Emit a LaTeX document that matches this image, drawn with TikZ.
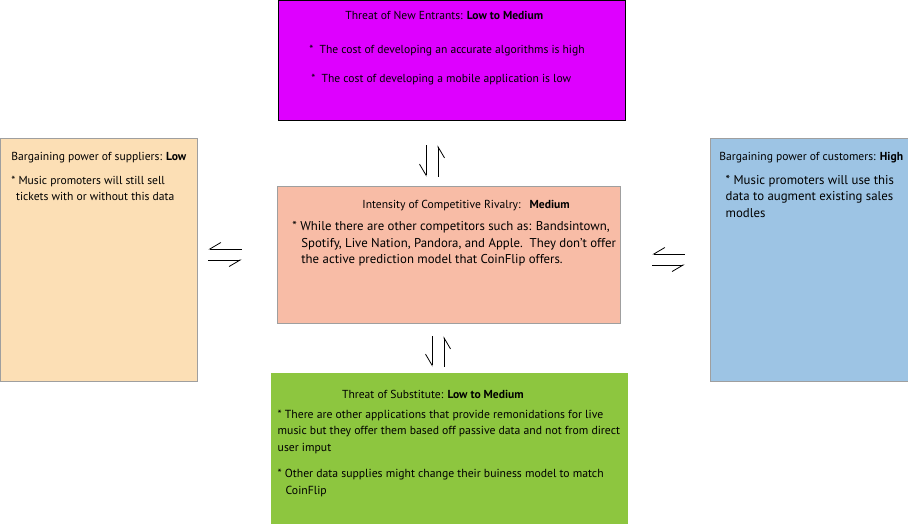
\documentclass[tikz,border=0pt]{standalone}
\usepackage{fontspec}
\setmainfont{PT Sans}
\usetikzlibrary{arrows.meta}

\definecolor{entrantsfill}{RGB}{222,0,255}
\definecolor{suppliersfill}{RGB}{252,223,181}
\definecolor{customersfill}{RGB}{157,196,228}
\definecolor{rivalryfill}{RGB}{248,188,166}
\definecolor{substitutefill}{RGB}{141,198,63}

\begin{document}
\begin{tikzpicture}[x=1pt, y=-1pt, >={Straight Barb[right,length=11pt,width=13pt]}, line width=0.8pt,
    force/.style={rectangle, draw=gray!75, line width=0.8pt, inner sep=0pt},
    txt/.style={anchor=base west, align=left, inner sep=0pt, font=\fontsize{11.6}{16.3}\selectfont},
    bigtxt/.style={txt, font=\fontsize{12.8}{16.5}\selectfont}]
    \useasboundingbox (0,0) rectangle (908,524);

    % Boxes {entrants, suppliers, rivalry, customers, substitute}
    \node [force, draw=black, fill=entrantsfill, minimum width=347pt, minimum height=120pt] (entrants)   at (451.5,60)   {};
    \node [force, fill=suppliersfill,  minimum width=197pt, minimum height=243pt]          (suppliers)  at (98.5,259.5) {};
    \node [force, fill=rivalryfill,    minimum width=343pt, minimum height=137pt]          (rivalry)    at (448.5,254.5) {};
    \node [force, fill=customersfill,  minimum width=198pt, minimum height=243pt]          (customers)  at (809,259.5)  {};
    \node [force, draw=substitutefill, fill=substitutefill, minimum width=356pt, minimum height=152pt] (substitute) at (449,449) {};

    % Texts (multi-line texts sit on their last baseline)
    \node [txt] (entrantstitle)  at (345,20)     {Threat of New Entrants: \textbf{Low to Medium}};
    \node [txt] (entrantsnotes)  at (309,82.3)   {* \ The cost of developing an accurate algorithms is high\\[12.7pt]\hspace*{2pt}* \ The cost of developing a mobile application is low};
    \node [txt] (supplierstitle) at (11,160.7)   {Bargaining power of suppliers: \textbf{Low}};
    \node [txt] (suppliersnotes) at (11,200.7)   {* Music promoters will still sell\\\hspace*{4.7pt}tickets with or without this data};
    \node [txt] (customerstitle) at (719,160.7)  {Bargaining power of customers: \textbf{High}};
    \node [bigtxt] (customersnotes) at (725.3,217.3) {* Music promoters will use this\\data to augment existing sales\\modles};
    \node [txt] (rivalrytitle)   at (362,208.3)  {Intensity of Competitive Rivalry:\hspace{9pt}\textbf{Medium}};
    \node [bigtxt, font=\fontsize{12.8}{16.2}\selectfont] (rivalrynotes) at (292,263.3) {* While there are other competitors such as: Bandsintown,\\\hspace*{9pt}Spotify, Live Nation, Pandora, and Apple.\ \ They don’t offer\\\hspace*{9pt}the active prediction model that CoinFlip offers.};
    \node [txt] (substitutetitle) at (341.7,398) {Threat of Substitute: \textbf{Low to Medium}};
    \node [txt, font=\fontsize{11.7}{16.3}\selectfont] (substitutenotes) at (277.3,494) {* There are other applications that provide remonidations for live\\music but they offer them based off passive data and not from direct\\user imput\\[10.4pt]* Other data supplies might change their buiness model to match\\\hspace*{8pt}CoinFlip};

    % Harpoons
    \draw [->, shorten <=35pt, shorten >=11pt] ([yshift=5.5pt]rivalry.west) -- ([yshift=5.5pt]rivalry.west -| suppliers.east);
    \draw [->, shorten <=11pt, shorten >=35pt] ([yshift=-5.5pt]rivalry.west -| suppliers.east) -- ([yshift=-5.5pt]rivalry.west);
    \draw [->, shorten <=25pt, shorten >=32pt] ([yshift=0.5pt]rivalry.east -| customers.west) -- ([yshift=0.5pt]rivalry.east);
    \draw [->, shorten <=32pt, shorten >=25pt] ([yshift=-10.5pt]rivalry.east) -- ([yshift=-10.5pt]rivalry.east -| customers.west);
    \draw [->, shorten <=25pt, shorten >=9pt]  ([xshift=-25.5pt]entrants.south) -- ([xshift=-25.5pt]entrants.south |- rivalry.north);
    \draw [->, shorten <=9pt,  shorten >=25pt] ([xshift=-13.5pt]entrants.south |- rivalry.north) -- ([xshift=-13.5pt]entrants.south);
    \draw [->, shorten <=13pt, shorten >=6pt]  ([xshift=-16.5pt]rivalry.south) -- ([xshift=-16.5pt]rivalry.south |- substitute.north);
    \draw [->, shorten <=6pt,  shorten >=13pt] ([xshift=-4.5pt]rivalry.south |- substitute.north) -- ([xshift=-4.5pt]rivalry.south);

\end{tikzpicture}
\end{document}
